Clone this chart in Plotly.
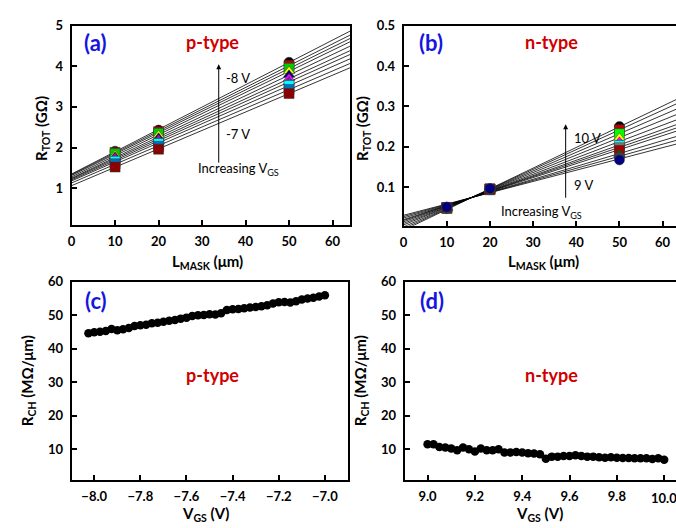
import numpy as np
import plotly.graph_objects as go

W, H = 676, 528

# ---------------- data ----------------
L_mask = [10, 20, 50]

# (a) p-type, R_TOT in GOhm, series from -8 V (top) to -7 V (bottom)
p_colors = ["#000000", "#C00000", "#00CC00", "#FFFF00", "#000080",
            "#FF00FF", "#7030A0", "#00FFFF", "#0070C0", "#8B0000"]
p_symbols = ["circle", "square", "square", "triangle-up", "triangle-up",
             "triangle-up", "triangle-up", "square", "square", "square"]
p_rtot = [
    [1.91, 2.43, 4.10],
    [1.88, 2.39, 4.02],
    [1.85, 2.35, 3.95],
    [1.81, 2.30, 3.88],
    [1.77, 2.24, 3.79],
    [1.74, 2.19, 3.70],
    [1.70, 2.15, 3.62],
    [1.66, 2.10, 3.53],
    [1.60, 2.03, 3.43],
    [1.52, 1.96, 3.33],
]

# (b) n-type, R_TOT in GOhm, series from 10 V (top) to 9 V (bottom)
n_colors = ["#000000", "#C00000", "#00FF00", "#FFFF00", "#FF00FF",
            "#00FFFF", "#808080", "#A00000", "#006400", "#404040", "#000080"]
n_symbols = ["circle", "square", "square", "triangle-up", "triangle-up",
             "square", "square", "square", "triangle-up", "circle", "circle"]
n_rtot = [
    [0.046, 0.093, 0.250],
    [0.047, 0.093, 0.242],
    [0.047, 0.094, 0.232],
    [0.048, 0.094, 0.222],
    [0.048, 0.094, 0.212],
    [0.048, 0.095, 0.203],
    [0.049, 0.095, 0.197],
    [0.049, 0.095, 0.191],
    [0.049, 0.095, 0.181],
    [0.050, 0.095, 0.174],
    [0.050, 0.096, 0.167],
]

# (c) p-type R_CH (MOhm/um) vs VGS
vgs_p = np.round(np.linspace(-8.025, -7.0, 42), 3)
rch_p = [44.6, 44.9, 45.1, 45.3, 45.9, 45.5, 45.8, 46.2, 46.8, 47.0,
         47.2, 47.6, 47.8, 48.1, 48.4, 48.6, 49.0, 49.3, 49.8, 50.0,
         50.1, 50.3, 50.2, 50.6, 51.6, 51.8, 51.9, 52.1, 52.3, 52.5,
         52.7, 53.0, 53.5, 53.9, 54.0, 53.8, 54.2, 54.7, 55.0, 55.2,
         55.6, 56.0]

# (d) n-type R_CH (MOhm/um) vs VGS
vgs_n = np.round(np.linspace(9.0, 10.0, 41), 3)
rch_n = [11.5, 11.5, 10.7, 10.5, 10.2, 9.7, 10.5, 10.0, 9.3, 10.2,
         9.7, 9.7, 10.0, 9.0, 9.0, 9.2, 9.0, 8.8, 8.7, 8.5,
         7.2, 7.8, 7.8, 8.0, 8.0, 8.2, 8.0, 7.8, 7.8, 7.6,
         7.5, 7.6, 7.5, 7.4, 7.4, 7.3, 7.3, 7.3, 7.1, 7.3, 6.9]

vgs_n_ticks = [9.0, 9.2, 9.4, 9.6, 9.8, 10.0]

# ---------------- figure ----------------
fig = go.Figure()
line_x = np.array([0.0, 70.0])

for ys in p_rtot:
    k, b = np.polyfit(L_mask, ys, 1)
    fig.add_trace(go.Scatter(x=line_x, y=k * line_x + b, mode="lines",
                             line=dict(color="black", width=0.8),
                             xaxis="x", yaxis="y", showlegend=False))
for ys, c, s in zip(p_rtot, p_colors, p_symbols):
    fig.add_trace(go.Scatter(x=L_mask, y=ys, mode="markers",
                             marker=dict(color=c, symbol=s, size=10,
                                         line=dict(width=0.5, color="#333333")),
                             xaxis="x", yaxis="y", showlegend=False))

for ys in n_rtot:
    k, b = np.polyfit(L_mask, ys, 1)
    fig.add_trace(go.Scatter(x=line_x, y=k * line_x + b, mode="lines",
                             line=dict(color="black", width=0.8),
                             xaxis="x2", yaxis="y2", showlegend=False))
for ys, c, s in zip(n_rtot, n_colors, n_symbols):
    fig.add_trace(go.Scatter(x=L_mask, y=ys, mode="markers",
                             marker=dict(color=c, symbol=s, size=10,
                                         line=dict(width=0.5, color="#333333")),
                             xaxis="x2", yaxis="y2", showlegend=False))

fig.add_trace(go.Scatter(x=vgs_p, y=rch_p, mode="markers",
                         marker=dict(color="black", size=8.5),
                         xaxis="x3", yaxis="y3", showlegend=False))
fig.add_trace(go.Scatter(x=vgs_n, y=rch_n, mode="markers",
                         marker=dict(color="black", size=8.5),
                         xaxis="x4", yaxis="y4", showlegend=False))


def px(x):
    return x / W


def py(y):
    return 1 - y / H


FONT = "Lato"
tickfont = dict(family=FONT, size=13, color="black", weight="bold")


def ax(domain, rng, tickvals, mirror=True, fmt=None, standoff=4, anchor=None,
       ticktext=None):
    d = dict(domain=domain, range=rng, tickvals=tickvals, showline=True,
             linewidth=2, linecolor="black", mirror=mirror, ticks="inside",
             ticklen=5, tickwidth=1.5, tickcolor="black", showgrid=False,
             zeroline=False, tickfont=tickfont, ticklabelstandoff=standoff,
             anchor=anchor, fixedrange=True)
    if fmt:
        d["tickformat"] = fmt
    if ticktext is not None:
        d["ticktext"] = ticktext
    return d


fig.update_layout(
    width=W, height=H, margin=dict(l=0, r=0, t=0, b=0),
    paper_bgcolor="white", plot_bgcolor="white",
    xaxis=ax([px(68), px(348)], [0, 64], [0, 10, 20, 30, 40, 50, 60], standoff=4, anchor="y"),
    yaxis=ax([py(220), py(18)], [0.1, 5], [1, 2, 3, 4, 5], anchor="x"),
    xaxis2=ax([px(402), 1.0], [0, 63.1], [0, 10, 20, 30, 40, 50, 60], standoff=4, anchor="y2"),
    yaxis2=ax([py(221), py(18)], [0.004, 0.5], [0.1, 0.2, 0.3, 0.4, 0.5],
              mirror=False, fmt=".1f", anchor="x2"),
    xaxis3=ax([px(68), px(346)], [-8.098, -6.9], [-8.0, -7.8, -7.6, -7.4, -7.2, -7.0],
              fmt=".1f", standoff=4, anchor="y3"),
    yaxis3=ax([py(479), py(278)], [0.9, 60], [10, 20, 30, 40, 50, 60], anchor="x3"),
    xaxis4=ax([px(403), 1.0], [8.903, 10.05], vgs_n_ticks,
              standoff=4, anchor="y4",
              ticktext=[f"{v:.1f}" for v in vgs_n_ticks[:-1]] + [""]),
    yaxis4=ax([py(479), py(278)], [0.9, 60], [10, 20, 30, 40, 50, 60],
              mirror=False, anchor="x4"),
)

ann = []


def text(x, y, t, size=12, color="black", bold=False, angle=0, xanchor="center"):
    ann.append(dict(x=px(x), y=py(y), xref="paper", yref="paper", text=t,
                    showarrow=False, textangle=angle, xanchor=xanchor,
                    yanchor="middle",
                    font=dict(family=FONT, size=size, color=color,
                              weight="bold" if bold else "normal")))


def arrow(x, y0, y1):
    ann.append(dict(x=px(x), y=py(y1), xref="paper", yref="paper", text="",
                    showarrow=True, ax=0, ay=y0 - y1, axref="pixel", ayref="pixel",
                    arrowhead=2, arrowsize=1, arrowwidth=1, arrowcolor="black"))


# last tick label of panel (d), which sits at the page edge
ann.append(dict(x=vgs_n_ticks[-1], y=0, xref="x4", yref="paper",
                yshift=py(498) * H, text=f"{vgs_n_ticks[-1]:.1f}", showarrow=False,
                xanchor="center", yanchor="middle", font=tickfont))

# panel labels
text(92, 35, "(a)", 22, "#1515E0", True)
text(210, 35, "p-type", 18, "#D00000", True)
text(430, 35, "(b)", 22, "#1515E0", True)
text(551, 35, "n-type", 18, "#D00000", True)
text(93, 297, "(c)", 22, "#1515E0", True)
text(210, 373, "p-type", 18, "#D00000", True)
text(431, 297, "(d)", 22, "#1515E0", True)
text(551, 373, "n-type", 18, "#D00000", True)

# arrows and voltage labels
arrow(216, 157, 57)
text(221, 71, "-8 V", 13, xanchor="left")
text(221, 128, "-7 V", 13, xanchor="left")
text(236, 163, "Increasing V<sub>GS</sub>", 13)
arrow(565, 193, 118)
text(571, 132, "10 V", 13, xanchor="left")
text(571, 180, "9 V", 13, xanchor="left")
text(541, 207, "Increasing V<sub>GS</sub>", 13)

# axis titles
text(38, 122, "R<sub>TOT</sub> (GΩ)", 15, bold=True, angle=-90)
text(361, 122, "R<sub>TOT</sub> (GΩ)", 15, bold=True, angle=-90)
text(205, 258, "L<sub>MASK</sub> (μm)", 15, bold=True)
text(543, 258, "L<sub>MASK</sub> (μm)", 15, bold=True)
text(24, 378, "R<sub>CH</sub> (MΩ/μm)", 15, bold=True, angle=-90)
text(359, 378, "R<sub>CH</sub> (MΩ/μm)", 15, bold=True, angle=-90)
text(203, 514, "V<sub>GS</sub> (V)", 15, bold=True)
text(539, 514, "V<sub>GS</sub> (V)", 15, bold=True)

fig.update_layout(annotations=ann)
fig.write_html("out.html")
